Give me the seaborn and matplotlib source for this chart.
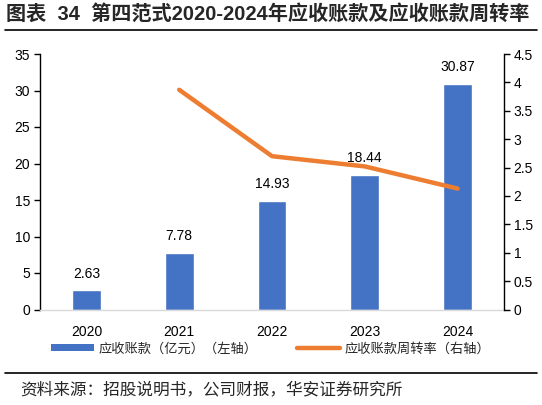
import matplotlib
matplotlib.use("Agg")
import matplotlib.pyplot as plt
import seaborn as sns
import pandas as pd
from matplotlib.lines import Line2D
from matplotlib.patches import Patch

# --- Data ---
years = ["2020", "2021", "2022", "2023", "2024"]
receivables = [2.63, 7.78, 14.93, 18.44, 30.87]   # 亿元 (left axis)
rate_years = ["2021", "2022", "2023", "2024"]
turnover = [3.87, 2.70, 2.52, 2.13]                # 周转率 (right axis)

BAR_COLOR = "#4472C4"
LINE_COLOR = "#ED7D31"

sns.set_theme(style="white")
plt.rcParams["font.family"] = ["Liberation Sans", "Noto Sans CJK SC", "DejaVu Sans"]

fig = plt.figure(figsize=(5.42, 4.05), dpi=100)
ax = fig.add_axes([40 / 542, 1 - 309.5 / 405, (504 - 40) / 542, (309.5 - 54) / 405])

df = pd.DataFrame({"year": years, "value": receivables})
sns.barplot(data=df, x="year", y="value", order=years, color=BAR_COLOR,
            saturation=1, width=0.31, ax=ax)
for c in ax.containers:
    ax.bar_label(c, fmt="%.2f", padding=7, fontsize=10, color="#000000")

ax.set_ylim(0, 35)
ax.set_yticks(range(0, 36, 5))
ax.set_xlabel("")
ax.set_ylabel("")
ax.tick_params(axis="y", which="both", left=True, direction="out", length=4,
               width=1, labelsize=10, colors="#000000", pad=3)
ax.tick_params(axis="x", bottom=False, labelsize=10, colors="#000000", pad=5)
for s in ["top", "right"]:
    ax.spines[s].set_visible(False)
ax.spines["left"].set_color("#000000")
ax.spines["left"].set_linewidth(1)
ax.spines["bottom"].set_color("#D9D9D9")
ax.spines["bottom"].set_linewidth(1)

ax2 = ax.twinx()
xpos = [years.index(y) for y in rate_years]
sns.lineplot(x=xpos, y=turnover, color=LINE_COLOR, linewidth=3.2, ax=ax2,
             solid_capstyle="round")
ax2.set_ylim(0, 4.5)
ax2.set_yticks([0, 0.5, 1, 1.5, 2, 2.5, 3, 3.5, 4, 4.5])
ax2.set_yticklabels(["0", "0.5", "1", "1.5", "2", "2.5", "3", "3.5", "4", "4.5"])
ax2.tick_params(axis="y", right=True, direction="out", length=4, width=1,
                labelsize=10, colors="#000000", pad=3)
for s in ["top", "left", "bottom"]:
    ax2.spines[s].set_visible(False)
ax2.spines["right"].set_color("#000000")
ax2.spines["right"].set_linewidth(1)
ax2.set_ylabel("")
ax.set_xlim(-0.5, len(years) - 0.5)

# legend
handles = [Patch(facecolor=BAR_COLOR, edgecolor="none"),
           Line2D([0], [0], color=LINE_COLOR, linewidth=3.2, solid_capstyle="round")]
labels = ["应收账款（亿元）（左轴）", "应收账款周转率（右轴）"]
fig.legend(handles, labels, loc="center", bbox_to_anchor=(0.5, 1 - 349 / 405),
           ncol=2, frameon=False, handlelength=3.2, handleheight=0.45,
           columnspacing=3, handletextpad=0.4,
           prop={"family": ["Noto Sans CJK SC"], "size": 9.5})

# title and rules
fig.text(6 / 542, 1 - 14 / 405, "图表  34  第四范式2020-2024年应收账款及应收账款周转率",
         fontsize=14.5, fontweight="bold", ha="left", va="center",
         family=["Liberation Sans", "Noto Sans CJK SC"])
fig.add_artist(Line2D([5 / 542, 537 / 542], [1 - 30 / 405] * 2, color="#000000", linewidth=1.2))
fig.add_artist(Line2D([5 / 542, 537 / 542], [1 - 373 / 405] * 2, color="#000000", linewidth=1.2))
fig.text(20 / 542, 1 - 390 / 405, "资料来源：招股说明书，公司财报，华安证券研究所",
         fontsize=12, ha="left", va="center", family=["Noto Sans CJK SC"])

fig.savefig("out.png", dpi=100, facecolor="white")
